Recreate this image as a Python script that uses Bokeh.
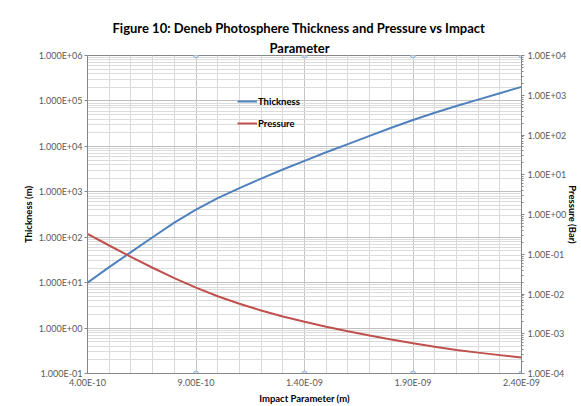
from bokeh.plotting import figure
from bokeh.models import (LogAxis, LinearAxis, Range1d, LogScale, FixedTicker, Title,
                          CustomJSTickFormatter, Legend, LegendItem, ColumnDataSource)
from bokeh.embed import file_html
from bokeh.resources import INLINE

# ---- data ----
impact = [4.0e-10, 5.0e-10, 6.0e-10, 7.0e-10, 8.0e-10, 9.0e-10, 1.0e-9, 1.1e-9,
          1.2e-9, 1.3e-9, 1.4e-9, 1.5e-9, 1.6e-9, 1.7e-9, 1.8e-9, 1.9e-9,
          2.0e-9, 2.1e-9, 2.2e-9, 2.3e-9, 2.4e-9]
thickness = [10, 21.9, 46.8, 100, 209, 407, 724, 1200, 1950, 3090, 4790, 7410,
             11200, 17000, 25700, 38000, 55000, 77600, 107000, 148000, 204000]
pressure = [0.324, 0.166, 0.086, 0.0457, 0.0251, 0.0145, 0.0088, 0.0057,
            0.00385, 0.00272, 0.0020, 0.0015, 0.00115, 0.0009, 0.00072,
            0.00058, 0.00047, 0.00039, 0.000335, 0.00029, 0.000251]

x_ticks = [4.0e-10, 9.0e-10, 1.4e-9, 1.9e-9, 2.4e-9]
x_minor = [4.0e-10 + i * 1.0e-10 for i in range(21)]
left_ticks = [1e-1, 1e0, 1e1, 1e2, 1e3, 1e4, 1e5, 1e6]
right_ticks = [1e-4, 1e-3, 1e-2, 1e-1, 1e0, 1e1, 1e2, 1e3, 1e4]

x_range = (4.0e-10, 2.4e-9)
left_range = (1e-1, 1e6)
right_range = (1e-4, 1e4)

TITLE_LINES = ["Figure 10: Deneb Photosphere Thickness and Pressure vs Impact",
               "Parameter"]
FONT = "Lato"
BLUE = "#4F81BD"
RED = "#C0504D"

p = figure(width=581, height=406, output_backend="svg", toolbar_location=None,
           x_range=Range1d(*x_range), y_range=Range1d(*left_range),
           y_axis_type="log", x_axis_location="below",
           min_border_left=87, min_border_right=55, min_border_top=55,
           min_border_bottom=33)
p.extra_y_ranges = {"pres": Range1d(*right_range)}
p.extra_y_scales = {"pres": LogScale()}

# keep handles on the real axes before adding anything else
xa = p.below[0]
ya = p.left[0]

# empty spacer axis between frame and title (no ticks, no labels)
spacer = LinearAxis(ticker=FixedTicker(ticks=[]), major_tick_out=12,
                    major_tick_in=0, axis_line_color=None,
                    major_tick_line_color=None, minor_tick_line_color=None)
p.add_layout(spacer, "above")

# two-line centred title (nearest line added first)
p.add_layout(Title(text=TITLE_LINES[1], align="left", offset=182, standoff=0,
                   text_font=FONT, text_font_size="13px",
                   text_font_style="bold", text_color="#000000"), "above")
p.add_layout(Title(text=TITLE_LINES[0], align="left", offset=25, standoff=4,
                   text_font=FONT, text_font_size="13px",
                   text_font_style="bold", text_color="#000000"), "above")

p.outline_line_color = "#868686"
p.background_fill_color = "white"
p.border_fill_color = "white"

# grids
p.xgrid.ticker = FixedTicker(ticks=x_ticks, minor_ticks=x_minor)
p.xgrid.grid_line_color = "#c4c4c4"
p.xgrid.minor_grid_line_color = "#d9d9d9"
left_minor = [m * d for d in left_ticks[:-1] for m in range(2, 10)]
p.ygrid.ticker = FixedTicker(ticks=left_ticks, minor_ticks=left_minor)
p.ygrid.grid_line_color = "#bfbfbf"
p.ygrid.minor_grid_line_color = "#dcdcdc"

def expfmt(digits):
    return CustomJSTickFormatter(code="""
        var s = tick.toExponential(%d).toUpperCase();
        var parts = s.split("E");
        var e = parts[1];
        var sign = e[0];
        var d = e.slice(1);
        if (d.length < 2) { d = "0" + d; }
        return parts[0] + "E" + sign + d;
    """ % digits)

# x axis (bottom)
xa.ticker = FixedTicker(ticks=x_ticks)
xa.formatter = expfmt(2)
xa.axis_label = "Impact Parameter (m)"
xa.major_tick_out = 0
xa.major_tick_in = 0
xa.major_label_standoff = 3
xa.axis_label_standoff = 2

# left axis
ya.ticker = FixedTicker(ticks=left_ticks)
ya.formatter = expfmt(3)
ya.axis_label = "Thickness (m)"
ya.major_tick_out = 3
ya.major_tick_in = 0
ya.major_label_standoff = 2
ya.axis_label_standoff = 2

# right axis
right_minor = [m * d for d in right_ticks[:-1] for m in range(2, 10)]
ra = LogAxis(y_range_name="pres",
             ticker=FixedTicker(ticks=right_ticks, minor_ticks=right_minor),
             formatter=expfmt(2), axis_label="Pressure (Bar)")
ra.major_tick_out = 3
ra.major_tick_in = 0
ra.minor_tick_out = 2
ra.minor_tick_in = 0
ra.major_label_standoff = 3
ra.axis_label_standoff = -2
p.add_layout(ra, "right")

for ax in (xa, ya, ra):
    ax.axis_line_color = "#868686"
    ax.major_tick_line_color = "#868686"
    ax.minor_tick_line_color = "#868686" if ax is ra else None
    ax.major_label_text_font = FONT
    ax.major_label_text_font_size = "9px"
    ax.major_label_text_color = "#595959"
    ax.axis_label_text_font = FONT
    ax.axis_label_text_font_size = "9.5px"
    ax.axis_label_text_font_style = "bold"
    ax.axis_label_text_color = "#000000"

# marker circles on top/bottom edges at major x ticks
mk = ColumnDataSource(dict(x=x_ticks[1:] * 2,
                           y=[left_range[0]] * 4 + [left_range[1]] * 4))
p.scatter("x", "y", source=mk, size=5, marker="circle",
          line_color="#8eb4e3", fill_color="#dbe5f1", line_width=1)

src = ColumnDataSource(dict(x=impact, t=thickness, pr=pressure))
r1 = p.line("x", "t", source=src, line_color=BLUE, line_width=2)
r2 = p.line("x", "pr", source=src, line_color=RED, line_width=2,
            y_range_name="pres")

legend = Legend(items=[LegendItem(label="Thickness", renderers=[r1]),
                       LegendItem(label="Pressure", renderers=[r2])],
                location=(150, 240))
legend.background_fill_alpha = 0
legend.border_line_alpha = 0
legend.label_text_font = FONT
legend.label_text_font_size = "9.5px"
legend.label_text_font_style = "bold"
legend.label_text_color = "#000000"
legend.glyph_width = 20
legend.glyph_height = 20
legend.label_height = 20
legend.label_standoff = 1
legend.spacing = 2
legend.padding = 0
legend.margin = 0
p.add_layout(legend, "center")

open("out.html", "w").write(file_html(p, INLINE))
